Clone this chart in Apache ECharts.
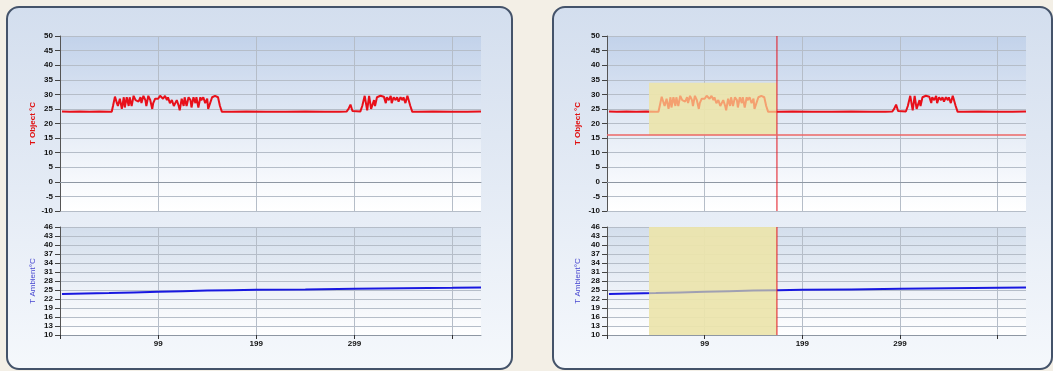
<!DOCTYPE html>
<html><head><meta charset="utf-8">
<script src="https://cdn.jsdelivr.net/npm/echarts@6/dist/echarts.min.js"></script>
<style>html,body{margin:0;padding:0;background:#f3efe6;}#c{width:1053px;height:371px;}</style>
</head><body><div id="c"></div>
<script>
// ---- data ----
const objX = [2,10,20,30,40,50,52.7,
  54,56,58,59,61,63,65,66,68,70,
  71,73,75,77,78,80,82,83,85,87,
  88,90,92,94,95,97,99,100,102,104,
  105,107,109,110,112,114,116,117,119,121,
  122,124,126,127,129,131,133,134,136,138,
  139,141,143,144,146,148,150,151,153,155,
  156,158,160,161,163,165,
  175,190,210,230,250,270,285,292,294,296,298,300,306,
  308,310.5,313,315,317,320,321,323,325,326.5,
  328,330,332,333,335,337,338,340,342,343.5,
  345,347,349,350,352,354,355.5,357,359,
  365,380,400,415,429];
const objY = [24.1,24.0,24.1,24.0,24.1,24.0,24.0,
  26,29.2,27,26,28.5,25,29,25.5,29,26,
  29,26,29.5,28,28.5,27.5,29,27,29.5,28,
  26,29.5,28,25,27,28.5,29,28.5,29.5,29,
  28.5,29.5,28,29,27,28,26,26,28,26,
  24.5,28.5,26,29,26,29,28,25.5,29,27,
  29,25.5,29,28,29,27,28.5,25,24.5,29,
  29.5,29.5,29.5,29,26,24,
  24.0,24.1,24.0,24.0,24.1,24.0,24.0,24.1,25.0,26.5,24.3,24.0,24.1,
  26,29.5,24.5,29.5,25,28,26,29,28.5,29.5,
  29,29.2,27,29,28,29.5,27,29,28,29,
  27.5,29,28,29,27,29.5,29.5,26,24,
  24.0,24.1,24.0,24.0,24.1];
const ambX = [2,25,50,75,100,125,150,175,200,250,300,350,400,429];
const ambY = [23.7,23.85,24.0,24.2,24.4,24.6,24.8,24.95,25.05,25.2,25.4,25.6,25.75,25.85];
const xRange = [0, 429];
const objRange = [-10, 50];
const ambRange = [10, 46];
const xTickValues = [0,100,200,300,400];
const xTickLabels = {100:'99', 200:'199', 300:'299'};
const selection = [43, 174];     // highlighted x range (right panel); cursor at selection end
const selectionTop = 34;         // top of highlight in object chart
const thresholdLevel = 16;       // horizontal red marker
const objTitle = 'T Object °C';
const ambTitle = 'T Ambient°C';

const objData = objX.map((x,i)=>[x,objY[i]]);
const ambData = ambX.map((x,i)=>[x,ambY[i]]);

const chart = echarts.init(document.getElementById('c'));
const FONT = 'Liberation Sans';
const gridLine = '#b5bdc8';

function grad(stops){return new echarts.graphic.LinearGradient(0,0,0,1,stops.map((c)=>({offset:c[0],color:c[1]})));}
const topBg = {type:'linear',x:0,y:0,x2:0,y2:1,colorStops:[{offset:0,color:'#c2d2ea'},{offset:0.45,color:'#e0e8f4'},{offset:0.85,color:'#f8fafd'},{offset:1,color:'#ffffff'}]};
const botBg = {type:'linear',x:0,y:0,x2:0,y2:1,colorStops:[{offset:0,color:'#d3deec'},{offset:0.6,color:'#eef2f8'},{offset:1,color:'#ffffff'}]};

const grids = [
  {left:60, width:421, top:36, height:175, show:true, backgroundColor:topBg, borderWidth:0},
  {left:60, width:421, top:227, height:108, show:true, backgroundColor:botBg, borderWidth:0},
  {left:607, width:419, top:36, height:175, show:true, backgroundColor:topBg, borderWidth:0},
  {left:607, width:419, top:227, height:108, show:true, backgroundColor:botBg, borderWidth:0}
];

function xAx(gi, bottom){
  return {type:'value', gridIndex:gi, min:xRange[0], max:xRange[1], interval:100,
    axisLine:{show:true, lineStyle:{color:'#8e97a3', width:1}},
    axisTick:{show:bottom, length:4, customValues:xTickValues, lineStyle:{color:'#333'}},
    axisLabel:{show:bottom, formatter:v=>xTickLabels[v]||'', fontSize:8, fontWeight:'bold', color:'#111', fontFamily:FONT, margin:5},
    splitLine:{show:true, lineStyle:{color:gridLine, width:1}}};
}
function yAx(gi, top, nameGap){
  const r = top?objRange:ambRange;
  return {type:'value', gridIndex:gi,
    min:r[0], max:r[1], interval: top?5:3,
    name: top?objTitle:ambTitle, nameLocation:'middle', nameGap:nameGap,
    nameTextStyle: top?{color:'#e01010', fontWeight:'bold', fontSize:8, fontFamily:FONT}:{color:'#4848d0', fontSize:8, fontFamily:FONT},
    axisLine:{show:true, lineStyle:{color:'#555', width:1}},
    axisTick:{show:true, length:5, lineStyle:{color:'#444'}},
    axisLabel:{fontSize:8, fontWeight:'bold', color:'#111', fontFamily:FONT, margin:7},
    splitLine:{show:true, lineStyle:{color:gridLine, width:1}}};
}

const RED = '#e8101a', BLUE = '#1818e0', CURSOR = '#e3141e';
const selStyle = {color:'rgba(236,228,172,0.93)'};

chart.setOption({
  animation:false,
  textStyle:{fontFamily:FONT},
  graphic:[
    {type:'rect', z:-10, shape:{x:7,y:7,width:505,height:362,r:12},
      style:{fill:grad([[0,'#d3deee'],[0.5,'#e4ebf5'],[1,'#f5f8fc']]), stroke:'#44536a', lineWidth:2}},
    {type:'rect', z:-10, shape:{x:553,y:7,width:499,height:362,r:12},
      style:{fill:grad([[0,'#d3deee'],[0.5,'#e4ebf5'],[1,'#f5f8fc']]), stroke:'#44536a', lineWidth:2}}
  ],
  grid: grids,
  xAxis:[xAx(0,false), xAx(1,true), xAx(2,false), xAx(3,true)],
  yAxis:[yAx(0,true,23), yAx(1,false,23), yAx(2,true,25), yAx(3,false,25)],
  visualMap:[
    {type:'piecewise', show:false, dimension:0, seriesIndex:2,
      pieces:[{lt:selection[0], color:RED},{gte:selection[0], lte:selection[1], color:'#f4a070'},{gt:selection[1], color:RED}]},
    {type:'piecewise', show:false, dimension:0, seriesIndex:3,
      pieces:[{lt:selection[0], color:BLUE},{gte:selection[0], lte:selection[1], color:'#a0a0b2'},{gt:selection[1], color:BLUE}]}
  ],
  series:[
    {type:'line', xAxisIndex:0, yAxisIndex:0, data:objData, symbol:'none', lineStyle:{color:RED, width:2}, itemStyle:{color:RED}},
    {type:'line', xAxisIndex:1, yAxisIndex:1, data:ambData, symbol:'none', lineStyle:{color:BLUE, width:2}, itemStyle:{color:BLUE}},
    {type:'line', xAxisIndex:2, yAxisIndex:2, data:objData, symbol:'none', lineStyle:{width:2}, z:3},
    {type:'line', xAxisIndex:3, yAxisIndex:3, data:ambData, symbol:'none', lineStyle:{width:2}, z:3},
    {type:'line', xAxisIndex:2, yAxisIndex:2, data:[], z:2,
      markArea:{silent:true, itemStyle:selStyle, data:[[{xAxis:selection[0], yAxis:thresholdLevel},{xAxis:selection[1], yAxis:selectionTop}]]},
      markLine:{silent:true, symbol:['none','none'], label:{show:false},
        data:[{yAxis:thresholdLevel, lineStyle:{color:'#ec6666', width:1.5, type:'solid'}}]}},
    {type:'line', xAxisIndex:3, yAxisIndex:3, data:[], z:2,
      markArea:{silent:true, itemStyle:selStyle, data:[[{xAxis:selection[0]},{xAxis:selection[1]}]]}},
    // cursor line at end of selection, spanning each chart's full height
    {type:'line', xAxisIndex:2, yAxisIndex:2, data:[[selection[1],objRange[0]],[selection[1],objRange[1]]],
      symbol:'none', z:4, silent:true, lineStyle:{color:CURSOR, width:1}, itemStyle:{color:CURSOR}},
    {type:'line', xAxisIndex:3, yAxisIndex:3, data:[[selection[1],ambRange[0]],[selection[1],ambRange[1]]],
      symbol:'none', z:4, silent:true, lineStyle:{color:CURSOR, width:1}, itemStyle:{color:CURSOR}}
  ]
});
</script></body></html>
